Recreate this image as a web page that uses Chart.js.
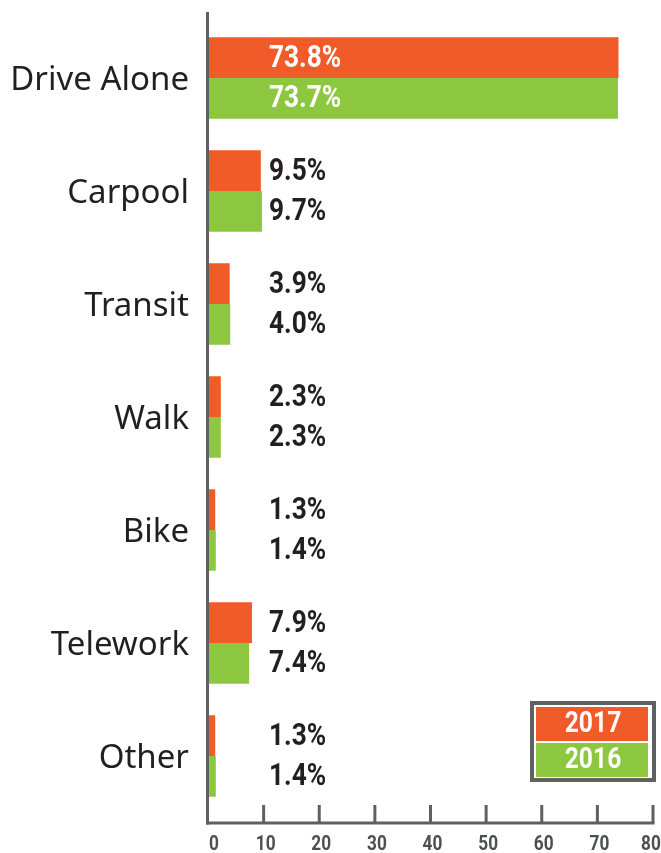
<!DOCTYPE html>
<html>
<head>
<meta charset="utf-8">
<script src="https://cdn.jsdelivr.net/npm/chart.js@4/dist/chart.umd.min.js"></script>
<style>
html,body{margin:0;padding:0;background:#fff;}
#wrap{width:661px;height:853px;position:relative;}
</style>
</head>
<body>
<div id="wrap"><canvas id="c" width="661" height="853"></canvas></div>
<script>
const categories = ["Drive Alone", "Carpool", "Transit", "Walk", "Bike", "Telework", "Other"];
const values2017 = [73.8, 9.5, 3.9, 2.3, 1.3, 7.9, 1.3];
const values2016 = [73.7, 9.7, 4.0, 2.3, 1.4, 7.4, 1.4];
const seriesNames = ["2017", "2016"];
const xTicks = [0, 10, 20, 30, 40, 50, 60, 70, 80];

const ORANGE = "#f15a29";
const GREEN = "#8dc63f";
const AXIS = "#5f6062";
const TEXT = "#231f20";
const COND = 'Roboto, "Liberation Sans", sans-serif';

// draw horizontally condensed text
function condText(ctx, text, x, y, align, sx) {
  ctx.save();
  ctx.translate(x, y);
  ctx.scale(sx, 1);
  ctx.textAlign = align;
  ctx.fillText(text, 0, 0);
  ctx.restore();
}

const overlay = {
  id: "overlay",
  afterDatasetsDraw(chart) {
    const ctx = chart.ctx;
    const xs = chart.scales.x;
    const area = chart.chartArea;
    const x0 = xs.getPixelForValue(0);
    const axisY = area.bottom + 10.5;
    ctx.save();
    // y axis line
    ctx.strokeStyle = AXIS;
    ctx.lineWidth = 3;
    ctx.beginPath();
    ctx.moveTo(x0 - 0.5, area.top - 9.5);
    ctx.lineTo(x0 - 0.5, axisY + 1.5);
    ctx.stroke();
    // x axis line
    ctx.beginPath();
    ctx.moveTo(x0 - 2, axisY);
    ctx.lineTo(xs.getPixelForValue(80) + 1.5, axisY);
    ctx.stroke();
    // ticks upward + labels
    ctx.font = "bold 21px " + COND;
    ctx.fillStyle = "#4d4e50";
    ctx.textBaseline = "middle";
    xTicks.forEach((t, i) => {
      const px = xs.getPixelForValue(t);
      if (i > 0) {
        ctx.beginPath();
        ctx.moveTo(px, axisY - 18);
        ctx.lineTo(px, axisY);
        ctx.stroke();
      }
      let lx = px;
      if (i === 0) lx = px + 6;
      else if (i === xTicks.length - 1) lx = px - 2;
      else lx = px + 2;
      condText(ctx, String(t), lx, axisY + 22, "center", 0.82);
    });
    // value labels
    ctx.font = "bold 32px " + COND;
    chart.data.datasets.forEach((ds, di) => {
      const meta = chart.getDatasetMeta(di);
      meta.data.forEach((bar, i) => {
        ctx.fillStyle = i === 0 ? "#ffffff" : TEXT;
        condText(ctx, ds.data[i].toFixed(1) + "%", x0 + 61, bar.y + 1, "left", 0.82);
      });
    });
    // legend box
    const lx = 530, ly = 701, lw = 126, lh = 81;
    ctx.lineWidth = 4;
    ctx.strokeStyle = AXIS;
    ctx.strokeRect(lx + 2, ly + 2, lw - 4, lh - 4);
    ctx.font = "bold 29px " + COND;
    chart.data.datasets.forEach((ds, di) => {
      const ry = 707 + di * 36;
      ctx.fillStyle = ds.backgroundColor;
      ctx.fillRect(536, ry, 112, 34);
      ctx.fillStyle = "#ffffff";
      condText(ctx, ds.label, 593, ry + 18, "center", 0.85);
    });
    ctx.restore();
  }
};

new Chart(document.getElementById("c"), {
  type: "bar",
  data: {
    labels: categories,
    datasets: [
      { label: seriesNames[0], data: values2017, backgroundColor: ORANGE, categoryPercentage: 0.72, barPercentage: 1.0 },
      { label: seriesNames[1], data: values2016, backgroundColor: GREEN, categoryPercentage: 0.72, barPercentage: 1.0 }
    ]
  },
  options: {
    indexAxis: "y",
    responsive: false,
    animation: false,
    layout: { padding: { top: 21.5, bottom: 40.5, left: 8, right: 8 } },
    plugins: { legend: { display: false }, tooltip: { enabled: false } },
    scales: {
      x: { display: false, min: 0, max: 80 },
      y: {
        grid: { display: false, drawTicks: false },
        border: { display: false },
        ticks: { color: TEXT, padding: 19, labelOffset: 3, font: { family: '"Noto Sans", sans-serif', size: 33, weight: "normal" } },
        afterFit(scale) { scale.width = 200; scale.paddingTop = 0; scale.paddingBottom = 0; }
      }
    }
  },
  plugins: [overlay]
});
</script>
</body>
</html>
